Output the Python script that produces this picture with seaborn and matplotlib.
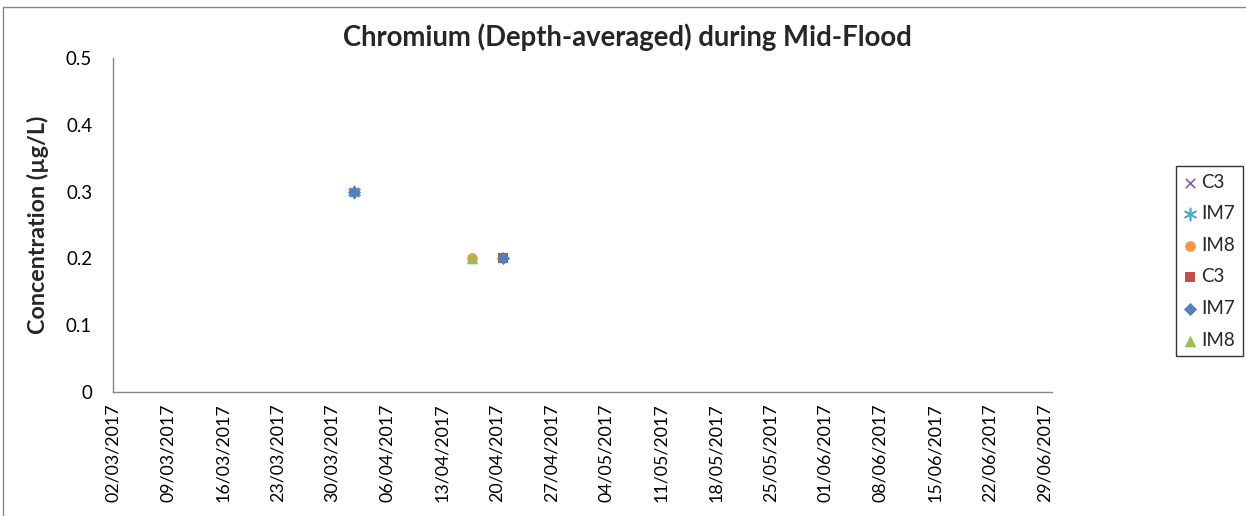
import matplotlib
matplotlib.use("Agg")
import matplotlib.pyplot as plt
import matplotlib.dates as mdates
from matplotlib.patches import Rectangle
import numpy as np
import pandas as pd
import seaborn as sns

# Series: (legend label, sampling dates, concentrations)
c3_a_dates = ["2017-04-01"]
c3_a_vals = [0.3]
im7_a_dates = ["2017-04-01"]
im7_a_vals = [0.3]
im8_a_dates = ["2017-04-16"]
im8_a_vals = [0.2]
c3_b_dates = ["2017-04-20"]
c3_b_vals = [0.2]
im7_b_dates = ["2017-04-01", "2017-04-20"]
im7_b_vals = [0.3, 0.2]
im8_b_dates = ["2017-04-16"]
im8_b_vals = [0.2]

labels = ["C3", "IM7", "IM8", "C3", "IM7", "IM8"]
y_ticks = [0, 0.1, 0.2, 0.3, 0.4, 0.5]
x_start, x_end = "2017-03-02", "2017-06-30"

sns.set_theme(style="white")
plt.rcParams["font.family"] = ["Lato", "DejaVu Sans"]

fig = plt.figure(figsize=(12.46, 5.16), dpi=100)
ax = fig.add_axes([113 / 1246, 1 - 392 / 516, (1052 - 113) / 1246, (392 - 58) / 516])

styles = [
    dict(marker="x", color="#7E649E", s=45, linewidth=1.2),
    dict(marker=(6, 2, 0), color="#4BACC6", s=75, linewidth=1.2),
    dict(marker="o", color="#F79646", s=60, linewidth=0),
    dict(marker="s", color="#C0504D", s=60, linewidth=0),
    dict(marker="D", color="#4F81BD", s=45, linewidth=0),
    dict(marker="^", color="#9BBB59", s=70, linewidth=0),
]
series = [
    (c3_a_dates, c3_a_vals), (im7_a_dates, im7_a_vals), (im8_a_dates, im8_a_vals),
    (c3_b_dates, c3_b_vals), (im7_b_dates, im7_b_vals), (im8_b_dates, im8_b_vals),
]

# points sit late within their day slot (evening sampling)
for (dates, vals), lab, st in zip(series, labels, styles):
    d = pd.DataFrame({"date": pd.to_datetime(dates) + pd.Timedelta(hours=20), "value": vals})
    sns.scatterplot(data=d, x="date", y="value", ax=ax, label=lab, zorder=3, **st)

ax.set_xlim(pd.Timestamp(x_start), pd.Timestamp(x_end))
ax.set_ylim(0, 0.5)
ax.set_yticks(y_ticks)
ax.set_yticklabels(["0" if v == 0 else f"{v:g}" for v in y_ticks])
xt = pd.date_range(x_start, "2017-06-29", freq="7D")
ax.set_xticks(xt)
ax.xaxis.set_major_formatter(mdates.DateFormatter("%d/%m/%Y"))
plt.setp(ax.get_xticklabels(), rotation=90)

for side in ["top", "right"]:
    ax.spines[side].set_visible(False)
for side in ["left", "bottom"]:
    ax.spines[side].set_color("#868686")
    ax.spines[side].set_linewidth(1)
ax.tick_params(axis="both", which="major", direction="out", length=5, width=1,
               color="#868686", labelcolor="black")
ax.tick_params(axis="x", pad=3, labelsize=12.8)
ax.tick_params(axis="y", pad=10, labelsize=13.5)
ax.set_xlabel("")
ax.set_ylabel("Concentration (µg/L)", fontsize=16.8, fontweight="bold", labelpad=12)

fig.text(627 / 1246, 1 - 37 / 516, "Chromium (Depth-averaged) during Mid-Flood",
         ha="center", va="center", fontsize=19.8, fontweight="bold")

leg = ax.legend(loc="upper left", bbox_to_anchor=(1176 / 1246, 1 - 166 / 516),
                bbox_transform=fig.transFigure, frameon=True, fancybox=False,
                fontsize=13.5, handletextpad=0.25, labelspacing=0.78,
                borderpad=0.4, handlelength=0.7, borderaxespad=0)
leg.get_frame().set_edgecolor("black")
leg.get_frame().set_linewidth(1)

fig.patches.append(Rectangle((3 / 1246, -0.01), 1.05, 1 - 7 / 516 + 0.01,
                             transform=fig.transFigure, fill=False,
                             edgecolor="#868686", linewidth=1))

fig.savefig("out.png", dpi=100)
